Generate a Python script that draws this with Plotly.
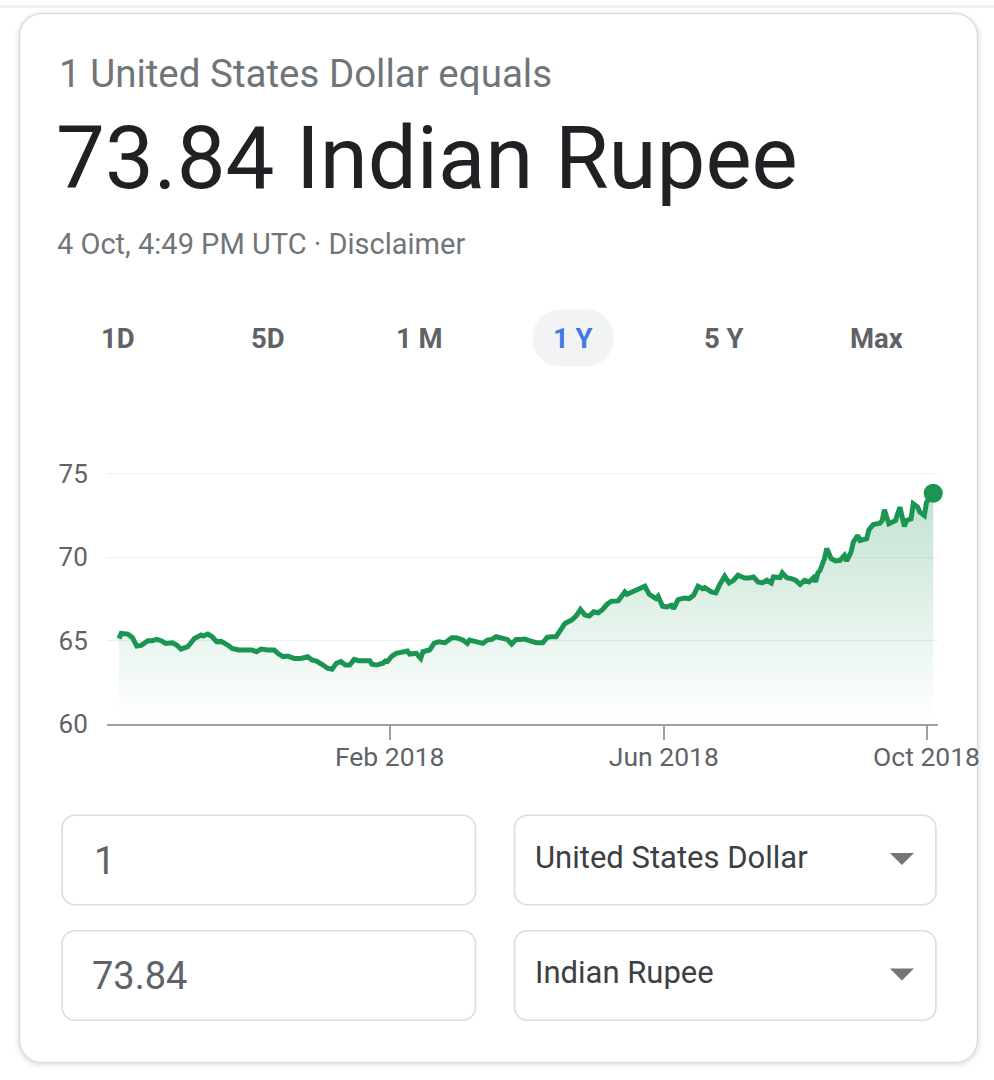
import plotly.graph_objects as go

# reference frame (pixels of the target picture) used to place decorations in paper units
W, H = 994, 1080
# page size of the figure in CSS pixels
FIG_W, FIG_H = 1037, 1095

# ---------------- data ----------------
dates = [
    "2017-10-02", "2017-10-03", "2017-10-06", "2017-10-08", "2017-10-10", "2017-10-12", "2017-10-15",
    "2017-10-17", "2017-10-19", "2017-10-21", "2017-10-23", "2017-10-26", "2017-10-28", "2017-10-30",
    "2017-11-02", "2017-11-04", "2017-11-05", "2017-11-08", "2017-11-09", "2017-11-11", "2017-11-13",
    "2017-11-15", "2017-11-17", "2017-11-20", "2017-11-22", "2017-11-25", "2017-11-28", "2017-12-01",
    "2017-12-03", "2017-12-05", "2017-12-08", "2017-12-11", "2017-12-13", "2017-12-15", "2017-12-17",
    "2017-12-20", "2017-12-23", "2017-12-26", "2017-12-28", "2017-12-30", "2018-01-02", "2018-01-04",
    "2018-01-06", "2018-01-08", "2018-01-10", "2018-01-12", "2018-01-14", "2018-01-16", "2018-01-18",
    "2018-01-20", "2018-01-23", "2018-01-24", "2018-01-26", "2018-01-29", "2018-01-30", "2018-01-31",
    "2018-02-02", "2018-02-04", "2018-02-07", "2018-02-09", "2018-02-10", "2018-02-13", "2018-02-15",
    "2018-02-16", "2018-02-19", "2018-02-21", "2018-02-23", "2018-02-26", "2018-03-01", "2018-03-03",
    "2018-03-06", "2018-03-08", "2018-03-09", "2018-03-12", "2018-03-15", "2018-03-17", "2018-03-19",
    "2018-03-21", "2018-03-24", "2018-03-26", "2018-03-28", "2018-03-30", "2018-04-01", "2018-04-03",
    "2018-04-05", "2018-04-08", "2018-04-11", "2018-04-13", "2018-04-15", "2018-04-17", "2018-04-19",
    "2018-04-21", "2018-04-24", "2018-04-26", "2018-04-28", "2018-04-30", "2018-05-02", "2018-05-04",
    "2018-05-06", "2018-05-08", "2018-05-10", "2018-05-12", "2018-05-15", "2018-05-18", "2018-05-19",
    "2018-05-22", "2018-05-24", "2018-05-27", "2018-05-29", "2018-06-01", "2018-06-02", "2018-06-04",
    "2018-06-06", "2018-06-08", "2018-06-09", "2018-06-11", "2018-06-14", "2018-06-16", "2018-06-18",
    "2018-06-20", "2018-06-22", "2018-06-23", "2018-06-26", "2018-06-28", "2018-06-30", "2018-07-02",
    "2018-07-04", "2018-07-06", "2018-07-08", "2018-07-11", "2018-07-13", "2018-07-15", "2018-07-17",
    "2018-07-19", "2018-07-21", "2018-07-23", "2018-07-24", "2018-07-27", "2018-07-28", "2018-07-30",
    "2018-08-01", "2018-08-03", "2018-08-05", "2018-08-07", "2018-08-09", "2018-08-11", "2018-08-12",
    "2018-08-13", "2018-08-14", "2018-08-16", "2018-08-17", "2018-08-19", "2018-08-21", "2018-08-23",
    "2018-08-25", "2018-08-26", "2018-08-28", "2018-08-29", "2018-08-31", "2018-09-01", "2018-09-04",
    "2018-09-05", "2018-09-07", "2018-09-10", "2018-09-11", "2018-09-12", "2018-09-14", "2018-09-16",
    "2018-09-17", "2018-09-19", "2018-09-21", "2018-09-22", "2018-09-24", "2018-09-25", "2018-09-27",
    "2018-09-28", "2018-09-30", "2018-10-01", "2018-10-04",
]

rates = [
    65.12, 65.42, 65.38, 65.18, 64.66, 64.70, 64.98,
    64.98, 65.06, 64.98, 64.82, 64.86, 64.72, 64.48,
    64.62, 64.92, 65.12, 65.32, 65.26, 65.38, 65.22,
    64.92, 64.94, 64.72, 64.52, 64.42, 64.42, 64.42,
    64.32, 64.48, 64.42, 64.42, 64.18, 64.02, 64.06,
    63.92, 63.92, 64.02, 63.82, 63.76, 63.52, 63.33,
    63.27, 63.63, 63.73, 63.52, 63.52, 63.86, 63.78,
    63.80, 63.78, 63.57, 63.52, 63.63, 63.76, 63.73,
    64.06, 64.22, 64.26, 64.36, 64.18, 64.22, 63.92,
    64.32, 64.42, 64.82, 64.92, 64.86, 65.16, 65.16,
    65.02, 64.82, 65.02, 64.92, 64.82, 65.02, 65.06,
    65.22, 65.12, 65.06, 64.78, 65.06, 65.06, 65.08,
    64.98, 64.86, 64.86, 65.18, 65.22, 65.22, 65.62,
    66.02, 66.22, 66.46, 66.86, 66.52, 66.46, 66.72,
    66.66, 66.86, 67.17, 67.35, 67.37, 67.91, 67.77,
    67.97, 68.05, 68.25, 67.77, 67.51, 67.65, 67.05,
    67.01, 67.11, 66.91, 67.45, 67.55, 67.51, 67.71,
    68.25, 68.11, 68.17, 67.91, 67.85, 68.41, 68.85,
    68.45, 68.61, 68.91, 68.75, 68.75, 68.81, 68.51,
    68.45, 68.61, 68.45, 68.81, 68.77, 69.05, 68.77,
    68.71, 68.61, 68.37, 68.61, 68.51, 68.77, 68.51,
    69.05, 69.21, 69.91, 70.51, 69.91, 69.77, 69.81,
    70.10, 69.77, 70.31, 70.91, 71.30, 71.00, 71.10,
    71.64, 71.96, 72.04, 72.20, 72.84, 72.00, 72.10,
    72.20, 73.00, 71.84, 72.20, 72.30, 73.20, 73.00,
    72.70, 72.50, 73.30, 73.84,
]

x_tick_vals = ["2018-02-01", "2018-06-04 14:00", "2018-10-01"]
x_tick_text = ["Feb 2018", "Jun 2018", "Oct 2018"]
y_tick_vals = [60, 65, 70, 75]

range_buttons = ["1D", "5D", "1 M", "1 Y", "5 Y", "Max"]
selected_button = "1 Y"

header_line = "1 United States Dollar equals"
headline = "73.84 Indian Rupee"
timestamp = "4 Oct, 4:49 PM UTC · Disclaimer"
amounts = ["1", "73.84"]
currencies = ["United States Dollar", "Indian Rupee"]

# ---------------- styling ----------------
GREEN = "#1b9552"
FONT = "Roboto"


def px(x):
    return x / W


def py(y):
    return 1 - y / H


def rrect(x0, y0, x1, y1, r):
    k = 0.5523 * r

    def P(x, y):
        return f"{px(x):.5f},{py(y):.5f}"

    return (f"M{P(x0 + r, y0)} L{P(x1 - r, y0)} C{P(x1 - r + k, y0)} {P(x1, y0 + r - k)} {P(x1, y0 + r)} "
            f"L{P(x1, y1 - r)} C{P(x1, y1 - r + k)} {P(x1 - r + k, y1)} {P(x1 - r, y1)} "
            f"L{P(x0 + r, y1)} C{P(x0 + r - k, y1)} {P(x0, y1 - r + k)} {P(x0, y1 - r)} "
            f"L{P(x0, y0 + r)} C{P(x0, y0 + r - k)} {P(x0 + r - k, y0)} {P(x0 + r, y0)} Z")


def tri(cx, cy, w, h):
    return (f"M{px(cx - w / 2):.5f},{py(cy - h / 2):.5f} L{px(cx + w / 2):.5f},{py(cy - h / 2):.5f} "
            f"L{px(cx):.5f},{py(cy + h / 2):.5f} Z")


CARD = (20, 9, 976, 1062)

shapes = []
# top strip
shapes.append(dict(type="rect", xref="paper", yref="paper", x0=0, x1=1, y0=py(3), y1=1,
                   fillcolor="#f2f2f2", line=dict(width=0), layer="below"))
# card shadow
for d, a in [(6, 0.015), (4, 0.025), (2.5, 0.035), (1.2, 0.05)]:
    shapes.append(dict(type="path", xref="paper", yref="paper",
                       path=rrect(CARD[0] - d, CARD[1] - d * 0.6, CARD[2] + d, CARD[3] + d * 1.3, 22 + d),
                       fillcolor=f"rgba(0,0,0,{a})", line=dict(width=0), layer="below"))
shapes.append(dict(type="path", xref="paper", yref="paper", path=rrect(*CARD, 22),
                   fillcolor="white", line=dict(color="rgba(0,0,0,0.06)", width=1), layer="below"))
# selected range pill
shapes.append(dict(type="path", xref="paper", yref="paper", path=rrect(532, 306, 613, 363, 28),
                   fillcolor="#f1f3f4", line=dict(width=0), layer="below"))
# input boxes
for (x0, x1) in [(62, 475), (514, 935)]:
    for (y0, y1) in [(814, 904), (930, 1020)]:
        shapes.append(dict(type="path", xref="paper", yref="paper", path=rrect(x0, y0, x1, y1, 13),
                           fillcolor="white", line=dict(color="#dadce0", width=1.6), layer="below"))
# dropdown arrows
for cy in [858, 974]:
    shapes.append(dict(type="path", xref="paper", yref="paper", path=tri(901, cy, 24, 12),
                       fillcolor="#757575", line=dict(width=0), layer="above"))

annotations = []


def text(x, y, s, size, color, anchor="left", bold=False):
    annotations.append(dict(xref="paper", yref="paper", x=px(x), y=py(y), text=f"<b>{s}</b>" if bold else s,
                            showarrow=False, xanchor=anchor, yanchor="middle",
                            font=dict(family=FONT, size=size, color=color)))


text(57, 69, header_line, 38.5, "#70757a")
text(54, 154, headline, 87, "#202124")
text(55, 240, timestamp, 29, "#70757a")

btn_x = [118, 268, 419, 572, 723, 876]
for bx, label in zip(btn_x, range_buttons):
    col = "#3f7be0" if label == selected_button else "#5f6368"
    text(bx, 335, label, 27.5, col, anchor="center", bold=True)

text(92, 860, amounts[0], 38, "#5f6368")
text(90, 976, amounts[1], 38, "#5f6368")
text(532, 856, currencies[0], 31, "#3c4043")
text(532, 972, currencies[1], 31, "#3c4043")

fig = go.Figure()
fig.add_trace(go.Scatter(
    x=dates, y=rates, mode="lines",
    line=dict(color=GREEN, width=5),
    fill="tozeroy",
    fillgradient=dict(type="vertical",
                      colorscale=[[0, "rgba(27,149,82,0.0)"], [1, "rgba(27,149,82,0.27)"]],
                      start=60.5, stop=74),
    hoverinfo="skip", showlegend=False,
))
fig.add_trace(go.Scatter(
    x=[dates[-1]], y=[rates[-1]], mode="markers",
    marker=dict(color=GREEN, size=19),
    cliponaxis=False, hoverinfo="skip", showlegend=False,
))

fig.update_layout(
    width=FIG_W, height=FIG_H, margin=dict(l=0, r=0, t=0, b=0),
    paper_bgcolor="white", plot_bgcolor="rgba(0,0,0,0)",
    shapes=shapes, annotations=annotations,
    xaxis=dict(type="date", range=["2017-09-26 12:00", "2018-10-06"],
               domain=[106.7 / W, 936.7 / W], anchor="y",
               showgrid=False, zeroline=False, showline=True, linecolor="#a0a0a0", linewidth=2,
               ticks="outside", ticklen=14, tickwidth=2, tickcolor="#a0a0a0",
               ticklabelstandoff=-5,
               tickvals=x_tick_vals, ticktext=x_tick_text,
               tickfont=dict(family=FONT, size=26.5, color="#5f6368")),
    yaxis=dict(range=[60, 75.6], domain=[py(722), py(461)],
               tickvals=y_tick_vals, showgrid=True, gridcolor="#efefef", gridwidth=1.2,
               zeroline=False, showline=False, ticks="", ticklabelstandoff=18,
               tickfont=dict(family=FONT, size=26, color="#5f6368")),
    font=dict(family=FONT),
)

fig.write_html(
    "out.html",
    config={"displayModeBar": False},
    post_script="document.body.style.margin='0';",
)
